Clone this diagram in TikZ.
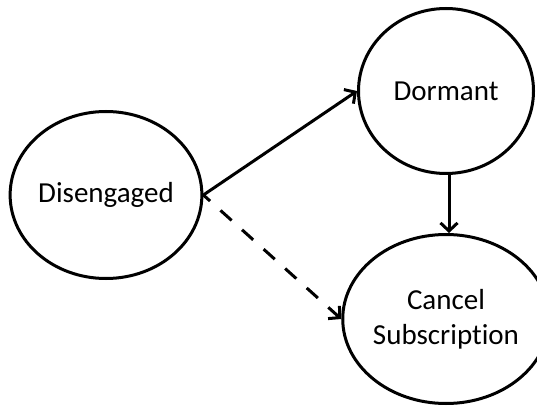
\documentclass[tikz,border=0pt]{standalone}
\usepackage{fontspec}
\setmainfont[Ligatures=NoCommon]{Carlito}
\usetikzlibrary{shapes.geometric,arrows.meta}
\begin{document}
\begin{tikzpicture}[x=1pt,y=1pt,
  state/.style={ellipse,draw,line width=3pt,inner sep=0pt,align=center,
    font=\fontsize{29}{35}\selectfont},
  conn/.style={line width=3pt,-{Straight Barb[length=8pt,width=17pt,line width=3pt]}},
  dashconn/.style={conn,dash pattern=on 15pt off 14pt,dash phase=6pt}]
\useasboundingbox (0,0) rectangle (537,407);
\node[state,minimum width=181pt,minimum height=167pt] (dis) at (106,212) {Disengaged};
\node[state,minimum width=175pt,minimum height=165pt] (dor) at (446,316) {Dormant};
\node[state,minimum width=175pt,minimum height=169pt] (can) at (446,88) {Cancel\\Subscription};
\draw[conn] (dis.east) -- (dor.west);
\draw[dashconn] (dis.east) -- (can.west);
\draw[conn] ([xshift=3pt]dor.south) -- ([xshift=3pt]can.north);
\end{tikzpicture}
\end{document}
